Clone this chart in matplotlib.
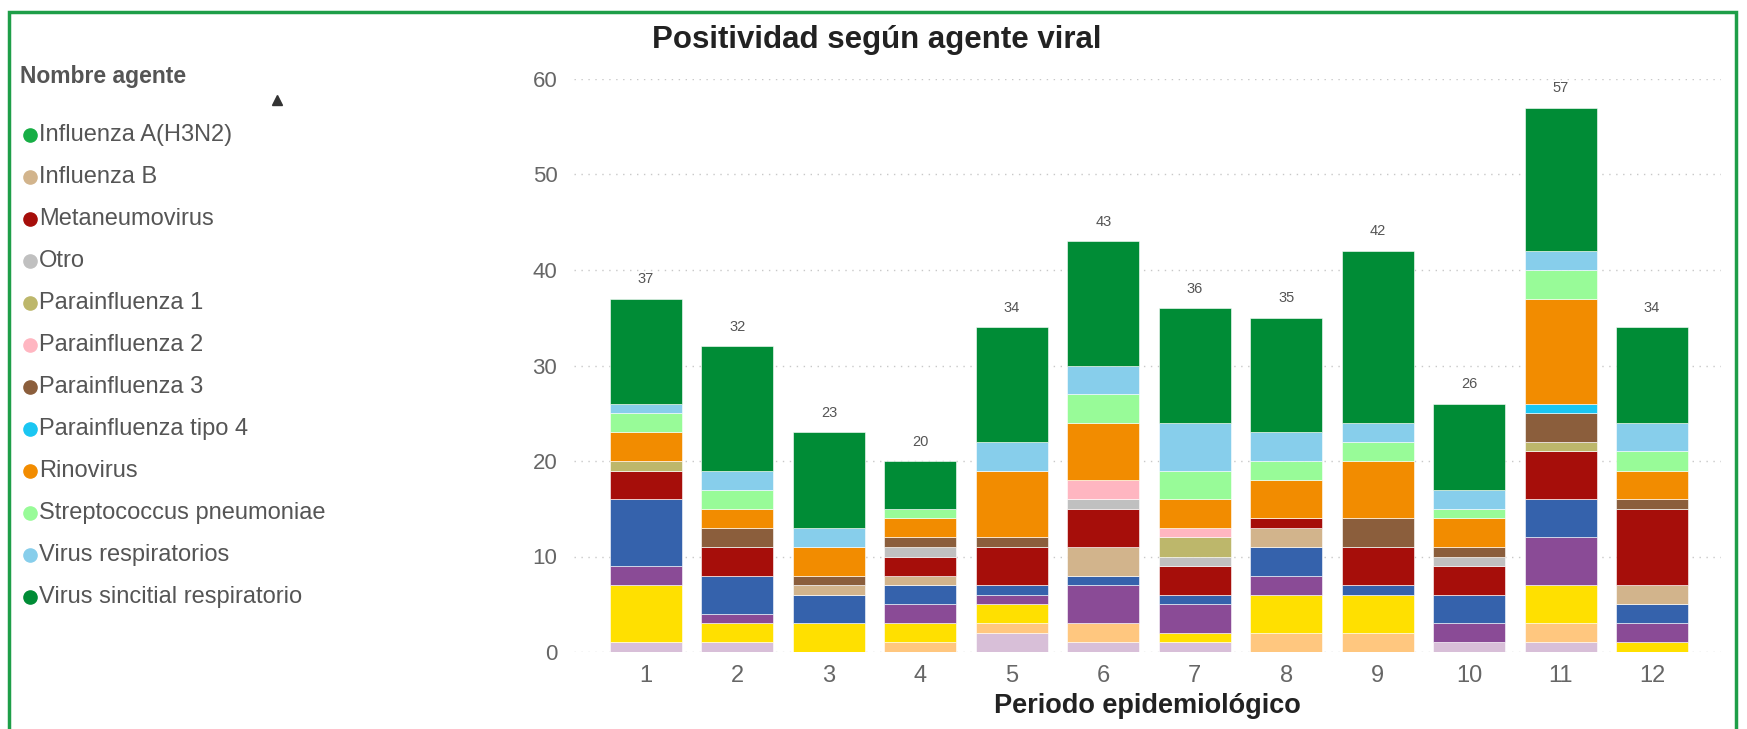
import numpy as np
import matplotlib.pyplot as plt
from matplotlib.lines import Line2D
from matplotlib.patches import Rectangle

plt.rcParams['font.family'] = ['Liberation Sans', 'DejaVu Sans']

periodos = [1, 2, 3, 4, 5, 6, 7, 8, 9, 10, 11, 12]

# series below Influenza A(H3N2) are scrolled out of the legend in the original
agentes_ocultos = ["Agente 1", "Agente 2", "Agente 3", "Agente 4", "Agente 5"]
colores_ocultos = ["#D8BFD8", "#FFC77F", "#FFE000", "#8A4B96", "#3562AC"]
valores_ocultos = [
    [1, 1, 0, 0, 2, 1, 1, 0, 0, 1, 1, 0],
    [0, 0, 0, 1, 1, 2, 0, 2, 2, 0, 2, 0],
    [6, 2, 3, 2, 2, 0, 1, 4, 4, 0, 4, 1],
    [2, 1, 0, 2, 1, 4, 3, 2, 0, 2, 5, 2],
    [7, 4, 3, 2, 1, 1, 1, 3, 1, 3, 4, 2],
]

agentes = ["Influenza A(H3N2)", "Influenza B", "Metaneumovirus", "Otro",
           "Parainfluenza 1", "Parainfluenza 2", "Parainfluenza 3",
           "Parainfluenza tipo 4", "Rinovirus", "Streptococcus pneumoniae",
           "Virus respiratorios", "Virus sincitial respiratorio"]
colores = ["#17AE45", "#D2B48C", "#A60E0A", "#C0C0C0", "#BDB76B", "#FFB6C1",
           "#8B5E3C", "#1AC6F2", "#F28C00", "#98FB98", "#87CEEB", "#008C36"]
valores = [
    [0, 0, 0, 0, 0, 0, 0, 0, 0, 0, 0, 0],
    [0, 0, 1, 1, 0, 3, 0, 2, 0, 0, 0, 2],
    [3, 3, 0, 2, 4, 4, 3, 1, 4, 3, 5, 8],
    [0, 0, 0, 1, 0, 1, 1, 0, 0, 1, 0, 0],
    [1, 0, 0, 0, 0, 0, 2, 0, 0, 0, 1, 0],
    [0, 0, 0, 0, 0, 2, 1, 0, 0, 0, 0, 0],
    [0, 2, 1, 1, 1, 0, 0, 0, 3, 1, 3, 1],
    [0, 0, 0, 0, 0, 0, 0, 0, 0, 0, 1, 0],
    [3, 2, 3, 2, 7, 6, 3, 4, 6, 3, 11, 3],
    [2, 2, 0, 1, 0, 3, 3, 2, 2, 1, 3, 2],
    [1, 2, 2, 0, 3, 3, 5, 3, 2, 2, 2, 3],
    [11, 13, 10, 5, 12, 13, 12, 12, 18, 9, 15, 10],
]

W, H = 1747, 729
fig = plt.figure(figsize=(W / 100, H / 100), dpi=100)
ax = fig.add_axes([574 / W, 1 - 652 / H, (1721 - 574) / W, (652 - 79) / H])

x = np.array(periodos)
base = np.zeros(len(x))
todas = list(zip(valores_ocultos, colores_ocultos)) + list(zip(valores, colores))
for vals, c in todas:
    vals = np.array(vals)
    ax.bar(x, vals, bottom=base, width=0.787, color=c, edgecolor="white", linewidth=0.4)
    base += vals

for xi, tot in zip(x, base):
    ax.annotate(f"{int(tot)}", (xi, tot), xytext=(0, 9), textcoords="offset points",
                ha="center", va="bottom", fontsize=10.5, color="#555555")

ax.set_xlim(0.213, 12.754)
ax.set_ylim(0, 60)
ax.set_yticks(range(0, 61, 10))
ax.set_xticks(x)
ax.tick_params(axis="y", length=0, labelsize=16, labelcolor="#666666", pad=12)
ax.tick_params(axis="x", length=0, labelsize=17, labelcolor="#666666", pad=9)
ax.grid(axis="y", color="#c8c8c8", linestyle=(0, (1, 4)), linewidth=1)
ax.set_axisbelow(True)
for s in ax.spines.values():
    s.set_visible(False)
ax.set_xlabel("Periodo epidemiológico", fontsize=19.5, fontweight="bold",
              color="#222222", labelpad=5)

fig.text(877 / W, 1 - 40 / H, "Positividad según agente viral", ha="center", va="center",
         fontsize=22.5, fontweight="bold", color="#222222")

# legend panel
fig.text(20 / W, 1 - 77 / H, "Nombre agente", ha="left", va="center",
         fontsize=16.5, fontweight="bold", color="#555555")
fig.add_artist(Line2D([277 / W], [1 - 100 / H], marker="^", markersize=7,
                      color="#333333", linestyle="none", transform=fig.transFigure))
for i, (nombre, c) in enumerate(zip(agentes, colores)):
    yy = 1 - (135 + 42 * i) / H
    fig.add_artist(Line2D([30 / W], [yy], marker="o", markersize=9.5, color=c,
                          linestyle="none", transform=fig.transFigure))
    fig.text(39 / W, yy, nombre, ha="left", va="center", fontsize=17, color="#555555")

fig.add_artist(Rectangle((9 / W, -0.05), (1736 - 9) / W, 1.05 - 12 / H, fill=False,
                         edgecolor="#1E9E48", linewidth=2.5, transform=fig.transFigure))

fig.savefig("out.png", dpi=100)
